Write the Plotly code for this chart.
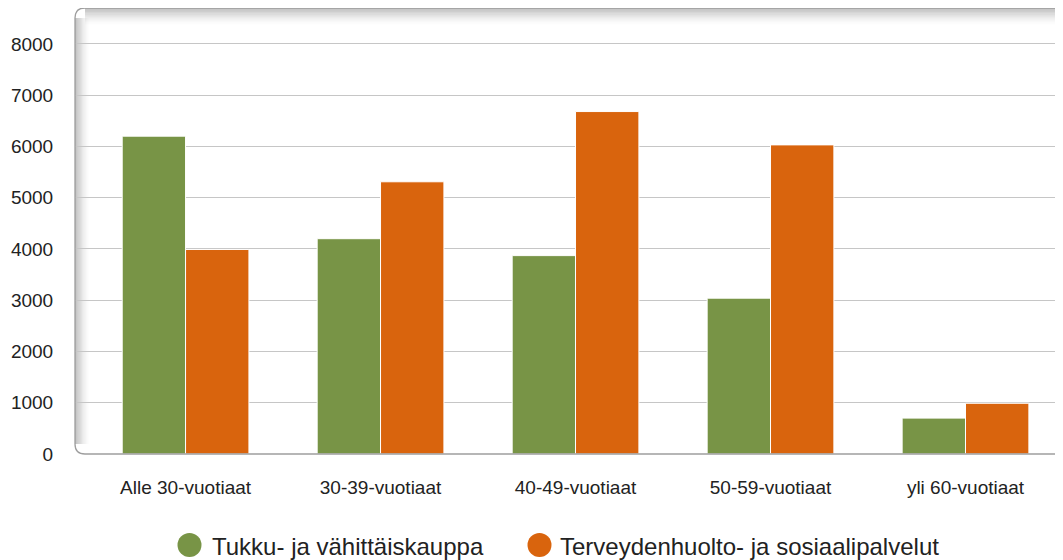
import plotly.graph_objects as go

categories = ["Alle 30-vuotiaat", "30-39-vuotiaat", "40-49-vuotiaat", "50-59-vuotiaat", "yli 60-vuotiaat"]
series_names = ["Tukku- ja vähittäiskauppa", "Terveydenhuolto- ja sosiaalipalvelut"]
tukku = [6200, 4200, 3870, 3040, 700]
terveys = [3990, 5310, 6680, 6030, 990]
y_ticks = [0, 1000, 2000, 3000, 4000, 5000, 6000, 7000, 8000]

GREEN = "#789446"
ORANGE = "#d9640d"
FONT = "Liberation Sans, Arial, sans-serif"

# plot area in figure pixels (page adds 8px body margin)
W, H = 1055, 552
ML, MR, MT, MB = 67, 0, 0, 106
PW, PH = W - ML - MR, H - MT - MB


def px(xw):  # window x -> paper x
    return (xw - 8 - ML) / PW


def py(yw):  # window y -> paper y
    return (H - MB + 8 - yw) / PH


fig = go.Figure()
for name, vals, col in [(series_names[0], tukku, GREEN), (series_names[1], terveys, ORANGE)]:
    fig.add_trace(go.Bar(x=list(range(len(categories))), y=vals, name=name,
                         marker=dict(color=col, line=dict(color="white", width=1)),
                         showlegend=False))

# plot frame: rounded box with soft shadow on top/left
r_x = 10 / PW
r_y = 10 / PH
shapes = []
n = 12
for i in range(n):
    a = 0.5 * (1 - i / n) ** 1.6
    shapes.append(dict(type="rect", xref="paper", yref="paper", layer="below",
                       x0=r_x, x1=1, y0=1 - (i + 1) * 1.4 / PH, y1=1 - i * 1.4 / PH,
                       fillcolor=f"rgba(120,120,120,{a:.3f})", line=dict(width=0)))
    shapes.append(dict(type="rect", xref="paper", yref="paper", layer="below",
                       x0=i * 1.2 / PW, x1=(i + 1) * 1.2 / PW, y0=r_y, y1=1 - r_y,
                       fillcolor=f"rgba(120,120,120,{a:.3f})", line=dict(width=0)))
path = (f"M 1,1 L {r_x},1 Q 0,1 0,{1 - r_y} L 0,{r_y} Q 0,0 {r_x},0 L 1,0")
shapes.append(dict(type="path", xref="paper", yref="paper", path=path, layer="above",
                   line=dict(color="#9e9e9e", width=1.3)))

# legend (drawn manually to match large circular markers)
legend_items = [(series_names[0], GREEN, 189.5, 210), (series_names[1], ORANGE, 539.5, 558)]
annotations = []
for name, col, cx, tx in legend_items:
    shapes.append(dict(type="circle", xref="paper", yref="paper", layer="above",
                       x0=px(cx - 12), x1=px(cx + 12), y0=py(545 + 12), y1=py(545 - 12),
                       fillcolor=col, line=dict(width=0)))
    annotations.append(dict(xref="paper", yref="paper", x=px(tx), y=py(546),
                            xanchor="left", yanchor="middle", showarrow=False, text=name,
                            font=dict(size=24, family=FONT, color="#222222")))

fig.update_layout(
    width=W, height=H,
    margin=dict(l=ML, r=MR, t=MT, b=MB),
    paper_bgcolor="white", plot_bgcolor="white",
    barmode="group", bargap=0.35, bargroupgap=0.0,
    font=dict(family=FONT, color="#222222"),
    shapes=shapes, annotations=annotations, showlegend=False,
    xaxis=dict(tickmode="array", tickvals=list(range(len(categories))), ticktext=categories,
               range=[-0.567, 4.5], showgrid=False, zeroline=False, showline=False,
               ticks="outside", ticklen=16, tickcolor="rgba(0,0,0,0)",
               tickfont=dict(size=19, family=FONT, color="#222222")),
    yaxis=dict(range=[0, 8700], tickvals=y_ticks, showgrid=True, gridcolor="#c6c6c6", gridwidth=1,
               zeroline=False, showline=False,
               ticks="outside", ticklen=17, tickcolor="rgba(0,0,0,0)",
               tickfont=dict(size=19, family=FONT, color="#222222")),
)

fig.write_html("out.html")
